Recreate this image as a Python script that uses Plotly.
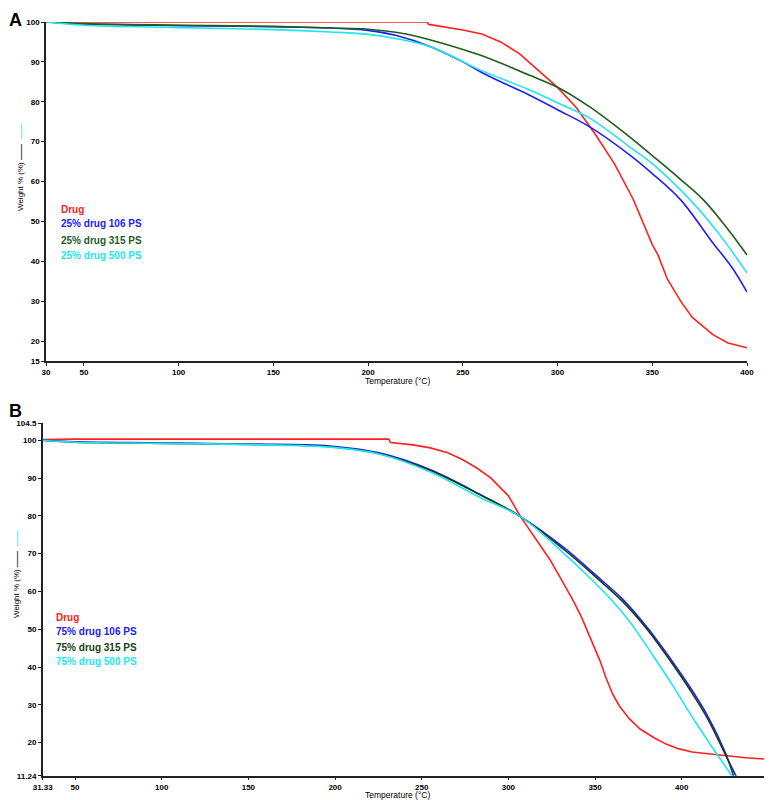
import plotly.graph_objects as go

# ---- panel A: 25% drug blends ----
a_drug_t = [30, 50, 100, 150, 200, 231, 232, 240, 250, 260, 270, 280, 290, 300, 310, 320, 330, 340, 350, 353, 358, 365, 371, 382, 390, 400]
a_drug_w = [100, 100, 100, 100, 100, 100, 99.4, 98.8, 98, 97, 95, 92, 87.8, 83.6, 78.5, 71.8, 64.5, 55.5, 44.2, 41.6, 35.5, 30.0, 26.0, 21.6, 19.5, 18.3]

a_106_t = [30, 50, 100, 150, 180, 200, 215, 233, 250, 259, 270, 285, 300, 317, 338, 350, 365, 382, 392, 400]
a_106_w = [100, 99.5, 99.1, 98.8, 98.5, 97.9, 96.6, 93.8, 90.0, 87.6, 85.0, 81.7, 78.0, 73.7, 66.7, 62.0, 55.4, 44.6, 38.5, 32.3]

a_315_t = [30, 50, 100, 150, 180, 200, 220, 233, 259, 285, 301, 317, 338, 350, 365, 377, 390, 400]
a_315_w = [100, 99.6, 99.2, 98.9, 98.5, 98.2, 97.0, 95.5, 91.7, 86.7, 83.4, 78.7, 71.2, 66.5, 60.5, 55.4, 48.0, 41.6]

a_500_t = [30, 50, 100, 150, 180, 200, 215, 233, 259, 285, 301, 317, 338, 350, 370, 385, 400]
a_500_w = [100, 99.2, 98.6, 98.1, 97.5, 96.9, 95.8, 93.8, 88.0, 83.0, 79.5, 75.9, 68.7, 64.5, 55.4, 47.0, 37.1]

# ---- panel B: 75% drug blends ----
b_drug_t = [31.33, 50, 100, 150, 200, 231, 232, 245, 255, 265, 274, 282, 290, 300, 307, 315, 324, 331, 337, 342, 346, 350, 353, 356, 360, 364, 370, 376, 384, 391, 398, 406, 416, 426, 437, 449.2]
b_drug_w = [100.2, 100.3, 100.3, 100.3, 100.3, 100.3, 99.4, 98.8, 98.0, 96.7, 94.8, 92.6, 90.0, 85.3, 79.8, 74.5, 68.4, 62.8, 57.9, 53.4, 49.2, 44.5, 41.5, 37.5, 33.0, 29.7, 26.2, 23.6, 21.3, 19.6, 18.4, 17.5, 16.9, 16.5, 16.0, 15.6]

b_106_t = [31.33, 50, 100, 150, 197, 226, 255, 284, 307, 331.5, 350, 366, 380, 395, 405, 415, 425, 430]
b_106_w = [100, 99.6, 99.3, 99.0, 98.5, 96.6, 92.2, 85.6, 79.8, 71.8, 64.5, 57.9, 50.5, 41.2, 34.5, 27.0, 17.5, 11.0]

b_315_t = [31.33, 50, 100, 150, 197, 226, 255, 284, 307, 331.5, 350, 366, 380, 395, 405, 415, 425, 431.5]
b_315_w = [100, 99.5, 99.2, 98.9, 98.3, 96.4, 92.0, 85.5, 79.8, 71.3, 64.0, 57.3, 50.0, 40.6, 33.8, 26.3, 17.0, 11.0]

b_500_t = [31.33, 50, 100, 150, 197, 226, 255, 284, 307, 331.5, 345, 359, 370, 383.5, 395, 403, 410, 418, 424, 430]
b_500_w = [100, 99.5, 99.2, 98.9, 98.2, 96.3, 91.6, 84.8, 79.8, 70.3, 64.5, 58.0, 52.0, 43.0, 35.0, 29.0, 24.0, 18.5, 14.5, 10.5]

a_names = ["Drug", "25% drug 106 PS", "25% drug 315 PS", "25% drug 500 PS"]
b_names = ["Drug", "75% drug 106 PS", "75% drug 315 PS", "75% drug 500 PS"]

a_xticks = [30, 50, 100, 150, 200, 250, 300, 350, 400]
a_yticks = [15, 20, 30, 40, 50, 60, 70, 80, 90, 100]
b_xticks = [31.33, 50, 100, 150, 200, 250, 300, 350, 400, 449.2]
b_yticks = [11.24, 20, 30, 40, 50, 60, 70, 80, 90, 100, 104.5]

a_colors = ["#ff2020", "#2020ff", "#1d5e1d", "#1ee6ee"]
b_colors = ["#ff2020", "#2020ff", "#143f14", "#1ee6ee"]

# the page body has an 8px margin, so the figure is a bit smaller and shifted
OFF = 8
W, H = 772 - OFF, 800 - OFF


def px(x):
    return (x - OFF) / W


def py(y):
    return 1 - (y - OFF) / H


fig = go.Figure()

a_series = [(a_drug_t, a_drug_w), (a_106_t, a_106_w), (a_315_t, a_315_w), (a_500_t, a_500_w)]
b_series = [(b_drug_t, b_drug_w), (b_106_t, b_106_w), (b_315_t, b_315_w), (b_500_t, b_500_w)]

for i, ((t, w), name, c) in enumerate(zip(a_series, a_names, a_colors)):
    shape = "linear" if i == 0 else "spline"
    fig.add_trace(go.Scatter(x=t, y=w, mode="lines", name=name, line=dict(color=c, width=1.6, shape=shape),
                             xaxis="x", yaxis="y"))
for i, ((t, w), name, c) in enumerate(zip(b_series, b_names, b_colors)):
    shape = "linear" if i == 0 else "spline"
    fig.add_trace(go.Scatter(x=t, y=w, mode="lines", name=name, line=dict(color=c, width=1.6, shape=shape),
                             xaxis="x2", yaxis="y2"))

tickfont = dict(family="Liberation Sans", size=8, color="black", weight="bold")
axis_common = dict(showgrid=False, zeroline=False, showline=True, linecolor="#222",
                   linewidth=1.5, ticks="outside", ticklen=3, tickwidth=1.3,
                   tickcolor="#222", tickfont=tickfont, tickmode="array", automargin=False)

fig.update_layout(
    width=W, height=H,
    margin=dict(l=0, r=0, t=0, b=0, autoexpand=False),
    paper_bgcolor="white", plot_bgcolor="white",
    showlegend=False,
    xaxis=dict(domain=[px(46), px(747)], range=[30, 400], anchor="y",
               tickvals=a_xticks, ticktext=[str(v) for v in a_xticks], **axis_common),
    yaxis=dict(domain=[py(361), py(22)], range=[15, 100], anchor="x",
               tickvals=a_yticks, ticktext=[str(v) for v in a_yticks], **axis_common),
    xaxis2=dict(domain=[px(42.7), px(767)], range=[31.33, 449.2], anchor="y2",
                tickvals=b_xticks, ticktext=[str(v) for v in b_xticks], **axis_common),
    yaxis2=dict(domain=[py(775.7), py(423.3)], range=[11.24, 104.5], anchor="x2",
                tickvals=b_yticks, ticktext=[str(v) for v in b_yticks], **axis_common),
)

ann = []
# panel letters
ann.append(dict(text="<b>A</b>", x=px(7), y=1, xanchor="left", yanchor="top",
                font=dict(family="Liberation Sans", size=18, color="black")))
ann.append(dict(text="<b>B</b>", x=px(7), y=py(411), xanchor="left", yanchor="middle",
                font=dict(family="Liberation Sans", size=18, color="black")))

# axis titles
ytitle = "Weight % (%) <b>——</b>  <span style='color:#1ee6ee'><b>——</b></span>"
ann.append(dict(text=ytitle, x=px(21), y=py(168), textangle=-90, xanchor="center", yanchor="middle",
                font=dict(family="Liberation Sans", size=8, color="black")))
ann.append(dict(text=ytitle, x=px(16), y=py(575), textangle=-90, xanchor="center", yanchor="middle",
                font=dict(family="Liberation Sans", size=8, color="black")))
ann.append(dict(text="Temperature (°C)", x=px(397), y=py(381), xanchor="center", yanchor="middle",
                font=dict(family="Liberation Sans", size=8.5, color="black")))
ann.append(dict(text="Temperature (°C)", x=px(397), y=py(795), xanchor="center", yanchor="middle",
                font=dict(family="Liberation Sans", size=8.5, color="black")))

# in-plot legends
for name, c, yy in zip(a_names, a_colors, [209, 224, 241, 255]):
    ann.append(dict(text="<b>" + name + "</b>", x=px(59), y=py(yy), xanchor="left", yanchor="middle",
                    font=dict(family="Liberation Sans", size=10, color=c)))
for name, c, yy in zip(b_names, b_colors, [617, 631, 647, 661]):
    ann.append(dict(text="<b>" + name + "</b>", x=px(54), y=py(yy), xanchor="left", yanchor="middle",
                    font=dict(family="Liberation Sans", size=10, color=c)))

for a in ann:
    a.update(xref="paper", yref="paper", showarrow=False)
fig.update_layout(annotations=ann)

fig.write_html("out.html")
